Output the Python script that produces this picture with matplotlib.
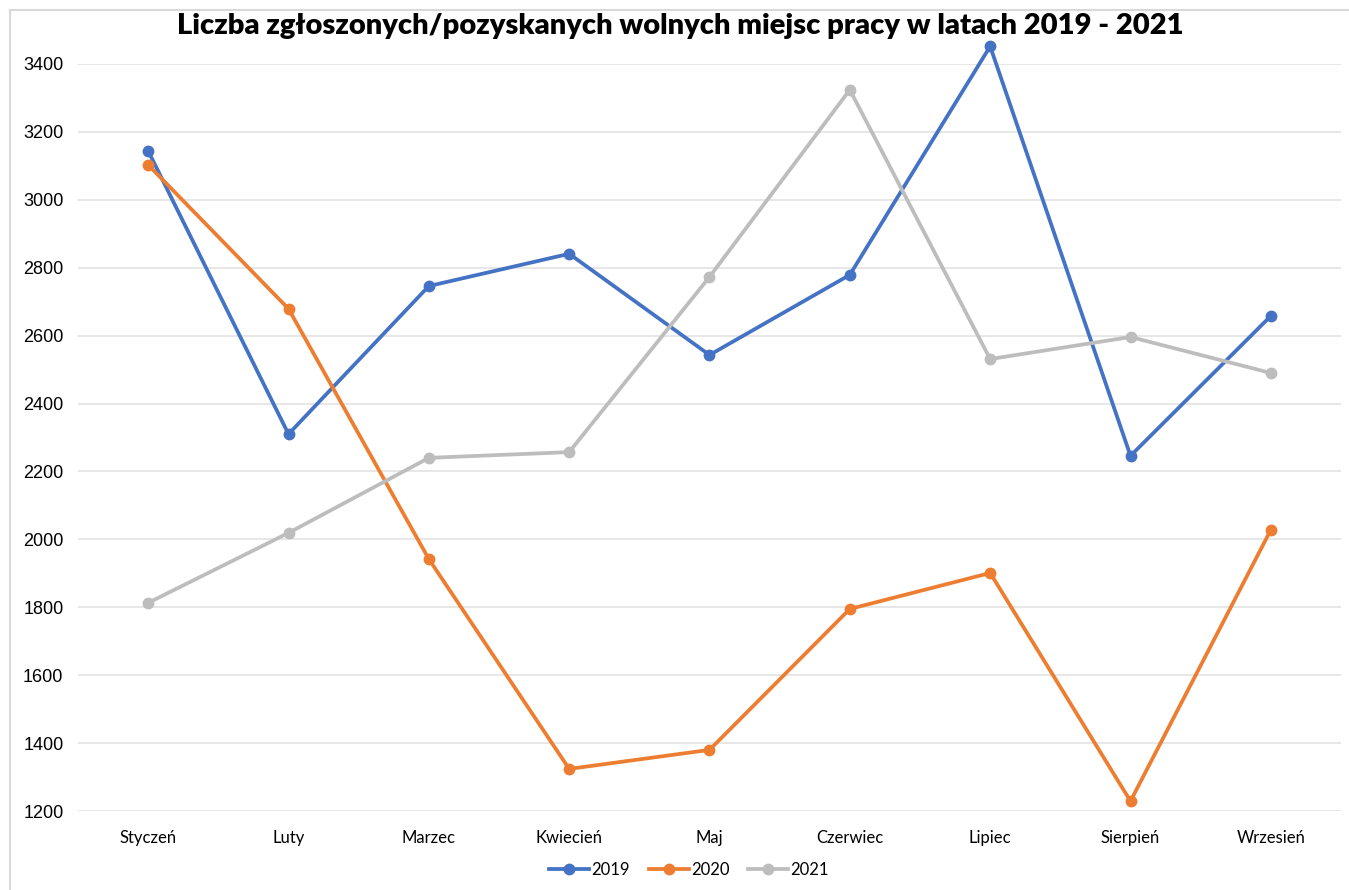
import matplotlib
matplotlib.use("Agg")
import matplotlib.pyplot as plt
from matplotlib.lines import Line2D

months = ["Styczeń", "Luty", "Marzec", "Kwiecień", "Maj", "Czerwiec", "Lipiec", "Sierpień", "Wrzesień"]
v2019 = [3144, 2310, 2746, 2841, 2543, 2779, 3452, 2246, 2658]
v2020 = [3103, 2679, 1942, 1324, 1380, 1795, 1901, 1229, 2028]
v2021 = [1813, 2019, 2240, 2257, 2773, 3324, 2531, 2596, 2490]
yticks = [1200, 1400, 1600, 1800, 2000, 2200, 2400, 2600, 2800, 3000, 3200, 3400]

W, H = 1349, 890
fig = plt.figure(figsize=(W / 100, H / 100), dpi=100)

# chart-area frame (top and left edges)
frame_kw = dict(transform=fig.transFigure, color="#D9D9D9", linewidth=1.5)
fig.lines.append(Line2D([10 / W, 1], [1 - 10 / H, 1 - 10 / H], **frame_kw))
fig.lines.append(Line2D([10 / W, 10 / W], [0, 1 - 10 / H], **frame_kw))

ax = fig.add_axes([78 / W, (H - 811) / H, (1341 - 78) / W, (811 - 64) / H])
x = list(range(len(months)))
series = [("2019", v2019, "#4472C4"), ("2020", v2020, "#ED7D31"), ("2021", v2021, "#BDBDBD")]
for name, vals, col in series:
    ax.plot(x, vals, color=col, linewidth=2.7, marker="o", markersize=7.5, label=name,
            clip_on=False, zorder=3)

ax.set_xlim(-0.5, len(months) - 0.5)
ax.set_ylim(1200, 3400)
ax.set_yticks(yticks)
ax.set_yticklabels([str(t) for t in yticks], fontfamily="Liberation Sans", fontsize=13)
ax.set_xticks(x)
ax.set_xticklabels(months, fontfamily="Lato", fontsize=12)
ax.tick_params(length=0)
ax.tick_params(axis="y", pad=10.5)
ax.tick_params(axis="x", pad=14)
ax.grid(axis="y", color="#E3E3E3", linewidth=1.2)
ax.set_axisbelow(True)
for s in ax.spines.values():
    s.set_visible(False)

fig.text(680 / W, (H - 26) / H, "Liczba zgłoszonych/pozyskanych wolnych miejsc pracy w latach 2019 - 2021",
         ha="center", va="center", fontfamily="Lato", fontweight="heavy", fontsize=21)

leg = fig.legend(loc="center", bbox_to_anchor=(689 / W, (H - 870) / H), ncol=3, frameon=False,
                 prop={"family": "Lato", "size": 12}, handlelength=2.4, columnspacing=1.1,
                 handletextpad=0.15)

fig.savefig("out.png", dpi=100)
